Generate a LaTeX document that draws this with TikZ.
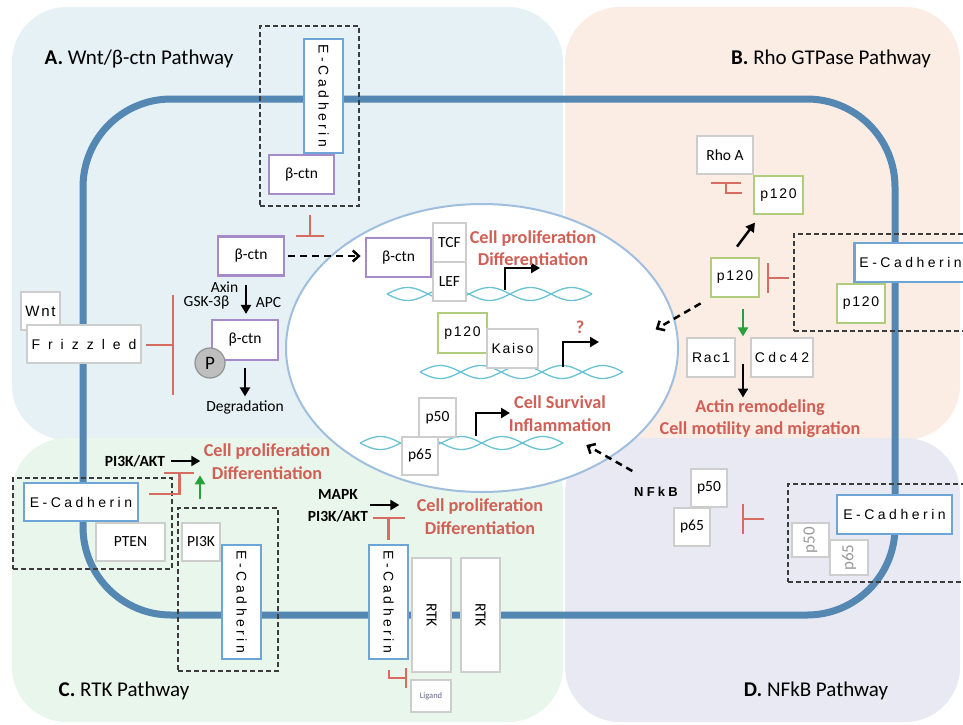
\documentclass[tikz,border=0pt]{standalone}
\usepackage{fontspec}
\setmainfont{Carlito}
\newfontfamily\trackwide[LetterSpace=25]{Liberation Sans}
\newfontfamily\tracknarrow[LetterSpace=12]{Liberation Sans}
\newfontfamily\trackfriz[LetterSpace=57]{Liberation Sans}
\usetikzlibrary{arrows.meta,calc,shapes.geometric}

\definecolor{panelA}{RGB}{229,241,245}
\definecolor{panelB}{RGB}{251,236,228}
\definecolor{panelC}{RGB}{233,246,235}
\definecolor{panelD}{RGB}{232,233,242}
\definecolor{membraneblue}{RGB}{84,135,178}
\definecolor{ecadblue}{RGB}{110,165,215}
\definecolor{ctnpurple}{RGB}{165,140,200}
\definecolor{pgreen}{RGB}{175,205,125}
\definecolor{boxgray}{RGB}{205,205,205}
\definecolor{inhred}{RGB}{215,108,98}
\definecolor{outred}{RGB}{208,95,85}
\definecolor{dnateal}{RGB}{105,195,210}
\definecolor{nucborder}{RGB}{160,190,222}
\definecolor{actgreen}{RGB}{40,160,60}
\definecolor{dashgray}{RGB}{60,60,60}
\definecolor{fadegray}{RGB}{155,155,155}
\definecolor{ligandtxt}{RGB}{95,105,140}
\definecolor{phosfill}{RGB}{190,190,190}
\definecolor{phosline}{RGB}{145,145,145}

\tikzset{
  mol/.style={fill=white, inner sep=0pt, font=\fontsize{15.5}{17}\selectfont},
  graybox/.style={mol, draw=boxgray, line width=1.4},
  ecadbox/.style={mol, draw=ecadblue, line width=2.8, font=\trackwide\fontsize{14}{16}\selectfont},
  ctnbox/.style={mol, draw=ctnpurple, line width=2.8},
  pbox/.style={mol, draw=pgreen, line width=2.8, font=\tracknarrow\fontsize{14}{16}\selectfont},
  rtkbox/.style={mol, draw=boxgray, line width=2.6},
  fadebox/.style={graybox, text=fadegray, font=\fontsize{17}{18}\selectfont},
  dashbox/.style={draw=dashgray, line width=1.5, dash pattern=on 5pt off 3pt, inner sep=0pt},
  act/.style={line width=2.5, -{Triangle[length=9pt,width=10pt]}},
  inh/.style={draw=inhred, line width=2.2},
  dasharr/.style={line width=2.5, dash pattern=on 7pt off 5pt, -{Straight Barb[length=6pt,width=11pt]}},
  dna/.style={draw=dnateal, line width=1.3},
  membrane/.style={draw=membraneblue, line width=7},
  paneltitle/.style={font=\fontsize{21}{24}\selectfont, inner sep=0pt},
  outtxt/.style={text=outred, align=center, inner sep=0pt, font=\bfseries\fontsize{18.2}{22.5}\selectfont},
  lbl/.style={inner sep=0pt, font=\fontsize{15.5}{17}\selectfont},
  blbl/.style={inner sep=0pt, align=center, font=\bfseries\fontsize{15.5}{22}\selectfont},
}

% two interleaved strands of a DNA double helix
\newcommand\dnahelix[4]{%
  \draw[dna] plot[domain=#1:#2, samples=100, smooth] (\x, {#3 + 6.5*sin((\x-#1)/#4*360)});
  \draw[dna] plot[domain=#1:#2, samples=100, smooth] (\x, {#3 - 6.5*sin((\x-#1)/#4*360)});
}

\begin{document}
\begin{tikzpicture}[x=1pt,y=-1pt]
\useasboundingbox (0,0) rectangle (963,724);
\clip (0,0) rectangle (963,724);
\fill[white] (0,0) rectangle (963,724);

% four pathway panels
\fill[panelA, rounded corners=55] (12,7) rectangle (563,440);
\fill[panelB, rounded corners=55] (565,7) rectangle (960,440);
\fill[panelC, rounded corners=55] (12,438) rectangle (563,722);
\fill[panelD, rounded corners=55] (565,438) rectangle (960,722);

% cell membrane
\draw[membrane, rounded corners=88] (83,99) rectangle (895,615);

% nucleus
\node[draw=nucborder, fill=white, line width=2, ellipse, minimum width=392, minimum height=288, inner sep=0pt] (nucleus) at (482,348) {};

% panel titles
\node[paneltitle] (tA) at (139,59) {\textbf{A.} Wnt/β-ctn Pathway};
\node[paneltitle] (tB) at (831,59) {\textbf{B.} Rho GTPase Pathway};
\node[paneltitle] (tC) at (124,691) {\textbf{C.} RTK Pathway};
\node[paneltitle] (tD) at (816,691) {\textbf{D.} NFkB Pathway};

% ---------- A: Wnt / beta-catenin ----------
\node[dashbox, minimum width=99, minimum height=180] (cplxA) at (309.5,116) {};
\node[ecadbox, rotate=-90, minimum width=114, minimum height=39] (ecA) at (323.5,96) {E-Cadherin};
\node[ctnbox, minimum width=65, minimum height=39] (ctnA1) at (301.5,174.5) {β-ctn};
\draw[inh, -{Bar[width=28pt]}] (cplxA.south) ++(0.5,8) -- ++(0,22);

\node[ctnbox, minimum width=66, minimum height=39] (ctnA2) at (251,256) {β-ctn};
\node[ctnbox, minimum width=65, minimum height=39] (ctnN) at (398.5,257.5) {β-ctn};
\draw[dasharr, shorten <=3pt, shorten >=4pt] (ctnA2.east) -- (ctnA2.east -| ctnN.west);

\node[graybox, minimum width=39, minimum height=38, font=\tracknarrow\fontsize{15}{16}\selectfont] (wnt) at (40.5,311) {Wnt};
\node[graybox, minimum width=114, minimum height=38, font=\trackfriz\fontsize{14}{16}\selectfont] (friz) at (84,344) {Frizzled};
\draw[inh, -{Bar[width=100pt]}] (friz.east) ++(4,1) -- ++(28,0);

\node[lbl] (axin) at (224.5,287) {Axin};
\node[lbl] (gsk) at (206.5,303) {GSK-3β};
\node[lbl] (apc) at (268.5,303) {APC};
\draw[act] (ctnA2.south) ++(-5,8) -- ++(0,29);

\node[ctnbox, minimum width=66, minimum height=40] (ctnA3) at (245,340) {β-ctn};
\node[circle, fill=phosfill, draw=phosline, line width=1.2, minimum size=30, inner sep=0pt, font=\fontsize{19}{19}\selectfont] (phos) at (210,363) {P};
\node[lbl] (degr) at (245,407) {Degradation};
\draw[act] (ctnA3.south) ++(0,7) -- ++(0,28);

% ---------- nucleus contents ----------
\dnahelix{387}{592}{294}{82}
\dnahelix{420}{623}{372}{81.2}
\dnahelix{360}{563}{443}{81.2}

\node[graybox, minimum width=33, minimum height=39] (tcf) at (449.5,242.5) {TCF};
\node[graybox, minimum width=33, minimum height=39] (lef) at (449.5,281.5) {LEF};
\coordinate (prom1) at (505,290);
\draw[act] (prom1) |- ++(35,-22);
\node[outtxt] (outN1) at (533,248) {Cell proliferation\\Differentiation};

\node[pbox, minimum width=49, minimum height=40] (p120N) at (462.5,333) {p120};
\node[graybox, minimum width=51, minimum height=39, font=\tracknarrow\fontsize{14}{16}\selectfont] (kaiso) at (512.5,348.5) {Kaiso};
\coordinate (prom2) at (563,367);
\draw[act] (prom2) |- ++(36,-25);
\node[outtxt] (qmark) at (580,327) {?};

\node[graybox, minimum width=37, minimum height=39] (p50N) at (437.5,417.5) {p50};
\node[graybox, minimum width=36, minimum height=38] (p65N) at (420,456) {p65};
\coordinate (prom3) at (476,436);
\draw[act] (prom3) |- ++(34,-23);
\node[outtxt] (outN3) at (560,413.5) {Cell Survival\\Inflammation};

% ---------- B: Rho GTPase ----------
\node[graybox, minimum width=56, minimum height=38] (rhoa) at (725,155) {Rho A};
\node[pbox, minimum width=49, minimum height=38] (p120T) at (778.5,195) {p120};
\draw[inh, -{Bar[width=30pt]}] (p120T.west) ++(-11,-2) -| ++(-16,-11);

\node[pbox, minimum width=48, minimum height=39] (p120M) at (735,277.5) {p120};
\draw[act] (p120M.north) ++(2,-10) -- ++(18,-24);

\node[dashbox, anchor=north west, minimum width=200, minimum height=97] (cplxB) at (793,233) {};
\node[ecadbox, anchor=west, minimum height=39, inner xsep=5pt, text width=128, align=left] (ecB) at (853,262.5) {E-Cadherin};
\node[pbox, minimum width=48, minimum height=39] (p120D) at (861,303.5) {p120};
\draw[inh, -{Bar[width=30pt]}] (cplxB.west) ++(-4,-4.5) -- ++(-22,0);

\draw[dasharr] (p120M.south west) ++(-9,5) -- ++(-45,26);
\draw[act, actgreen] (p120M.south) ++(8,11) -- ++(0,27);

\node[graybox, minimum width=48, minimum height=39, font=\tracknarrow\fontsize{14}{16}\selectfont] (rac1) at (711,357.5) {Rac1};
\node[graybox, minimum width=62, minimum height=39, font=\trackwide\fontsize{14}{16}\selectfont] (cdc42) at (782,357.5) {Cdc42};
\draw[act] ($(rac1.east)!0.5!(cdc42.west)$) ++(0,6) -- ++(0,34);
\node[outtxt] (outB) at (760,418.5) {Actin remodeling\\Cell motility and migration};

% ---------- C: RTK ----------
\node[blbl] (pkC) at (135,461) {PI3K/AKT};
\draw[act] (pkC.east) ++(6,0) -- ++(29,0);
\node[outtxt] (outC1) at (267,461.5) {Cell proliferation\\Differentiation};

\node[dashbox, minimum width=159, minimum height=91] (cplxC1) at (92.5,523.5) {};
\node[ecadbox, minimum width=114, minimum height=38] (ecC1) at (81,502) {E-Cadherin};
\node[graybox, minimum width=69, minimum height=38] (pten) at (130.5,542) {PTEN};
\draw[inh, -{Bar[width=30pt]}] (ecC1.east) ++(10,-8) -| ++(30,-22);

\node[dashbox, minimum width=100, minimum height=163] (cplxC2) at (228,589.5) {};
\node[graybox, minimum width=38, minimum height=38] (pi3k) at (201,542) {PI3K};
\node[ecadbox, rotate=-90, minimum width=114, minimum height=39] (ecC2) at (241.5,602) {E-Cadherin};
\draw[act, actgreen] (pi3k.north) ++(-1,-23) -- ++(0,-24);

\node[blbl] (mapk) at (338,506) {MAPK\\PI3K/AKT};
\draw[act] (mapk.east) ++(2,-1) -- ++(29,0);
\node[outtxt] (outC2) at (480,516.5) {Cell proliferation\\Differentiation};

\node[ecadbox, rotate=-90, minimum width=114, minimum height=39] (ecC3) at (388.5,602) {E-Cadherin};
\node[rtkbox, rotate=-90, minimum width=114, minimum height=39] (rtk1) at (431.5,615) {RTK};
\node[rtkbox, rotate=-90, minimum width=114, minimum height=39] (rtk2) at (480.5,615) {RTK};
\draw[inh, -{Bar[width=32pt]}] (ecC3.center) ++(0,-62) -- ++(0,-23);
\node[graybox, minimum width=40, minimum height=32, text=ligandtxt, font=\fontsize{8.5}{10}\selectfont] (ligand) at (431,696) {Ligand};
\draw[inh, -{Bar[width=20pt]}] (ecC3.center) ++(0.5,68) |- ++(18,8);

% ---------- D: NFkB ----------
\node[inner sep=0pt, font=\trackwide\bfseries\fontsize{13}{16}\selectfont] (nfkb) at (656,492) {NFkB};
\node[graybox, minimum width=36, minimum height=38] (p50D) at (709,488) {p50};
\node[graybox, minimum width=36, minimum height=38] (p65D) at (692,527) {p65};
\draw[dasharr] (p50D.west) ++(-58,-17) -- ++(-46,-26);

\node[dashbox, anchor=north west, minimum width=200, minimum height=98] (cplxD) at (787,483) {};
\node[ecadbox, minimum width=115, minimum height=39] (ecD) at (894.5,514.5) {E-Cadherin};
\node[fadebox, rotate=90, minimum width=34, minimum height=37] (p50F) at (810.5,540) {p50};
\node[fadebox, rotate=90, minimum width=35, minimum height=38] (p65F) at (849,557.5) {p65};
\draw[inh, -{Bar[width=30pt]}] (cplxD.west) ++(-23,-14) -- ++(-22,0);
\end{tikzpicture}
\end{document}
